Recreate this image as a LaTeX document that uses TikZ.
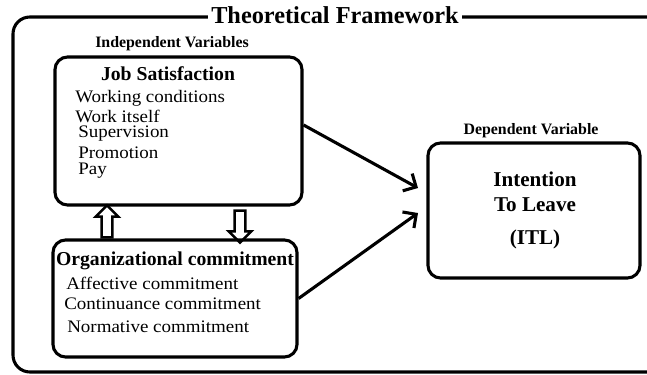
\documentclass[tikz,border=0pt]{standalone}
\usepackage{fontspec}
\setmainfont{Liberation Serif}
\usetikzlibrary{arrows.meta,shapes.arrows}

\begin{document}
\begin{tikzpicture}[x=0.025cm,y=-0.025cm,
	box/.style={draw,line width=2.2pt,rounded corners=9pt,inner sep=0pt},
	item/.style={anchor=west,inner sep=0pt,font=\addfontfeature{FakeStretch=1.08}\fontsize{12.5}{14}\selectfont},
	boxhead/.style={inner sep=0pt,font=\fontsize{14}{16}\bfseries\selectfont},
	vartitle/.style={inner sep=0pt,font=\fontsize{11.3}{13}\bfseries\selectfont},
	link/.style={line width=2.2pt,-{Straight Barb[length=7pt,width=14pt]}},
	blockarrow/.style={single arrow,draw,line width=1.8pt,inner xsep=0pt,inner ysep=0.1cm,
		single arrow head extend=0.15cm,minimum height=0.8cm}]
\useasboundingbox (0,0) rectangle (647,375);
\clip (0,0) rectangle (647,375);

% outer frame and title
\draw [line width=2.2pt,rounded corners=12pt] (13,17) rectangle (670,372);
\node [fill=white,inner sep=2pt,font=\fontsize{17.3}{20}\bfseries\selectfont] (title) at (335,15) {Theoretical Framework};

% independent variables
\node [vartitle] (indep) at (172,44) {Independent Variables};
\node [box,minimum width=6.175cm,minimum height=3.7cm] (js) at (178.5,131) {};
\node [box,minimum width=6.1cm,minimum height=2.925cm] (oc) at (175,298.5) {};

\node [boxhead] (jshead) at (168,74) {Job Satisfaction};
\node [item] (wc) at (75,98) {Working conditions};
\node [item] (wi) at (75,116) {Work itself};
\node [item] (sup) at (78,134) {Supervision};
\node [item] (pro) at (78,153) {Promotion};
\node [item] (pay) at (78,171) {Pay};

\node [boxhead] (ochead) at (175,261) {Organizational commitment};
\node [item] (aff) at (66,283) {Affective commitment};
\node [item] (con) at (64,304) {Continuance commitment};
\node [item] (nor) at (67,327) {Normative commitment};

% block arrows between the two boxes
\node [blockarrow,rotate=90] (upar) at (107,224) {};
\node [blockarrow,rotate=-90] (downar) at (240,224) {};

% dependent variable
\node [vartitle] (dep) at (531,131) {Dependent Variable};
\node [box,minimum width=5.3cm,minimum height=3.375cm] (itl) at (534,210.5) {};
\node [boxhead,font=\fontsize{15}{17}\bfseries\selectfont] (int) at (535,179) {Intention};
\node [boxhead,font=\fontsize{15}{17}\bfseries\selectfont] (tol) at (535,205) {To Leave};
\node [boxhead,font=\fontsize{15}{17}\bfseries\selectfont] (abbr) at (535,239) {(ITL)};

\coordinate (in1) at (418,188);
\coordinate (in2) at (418,213);
\draw [link] (js.east) ++(0,-6) -- (in1);
\draw [link] (oc.east) -- (in2);
\end{tikzpicture}
\end{document}
